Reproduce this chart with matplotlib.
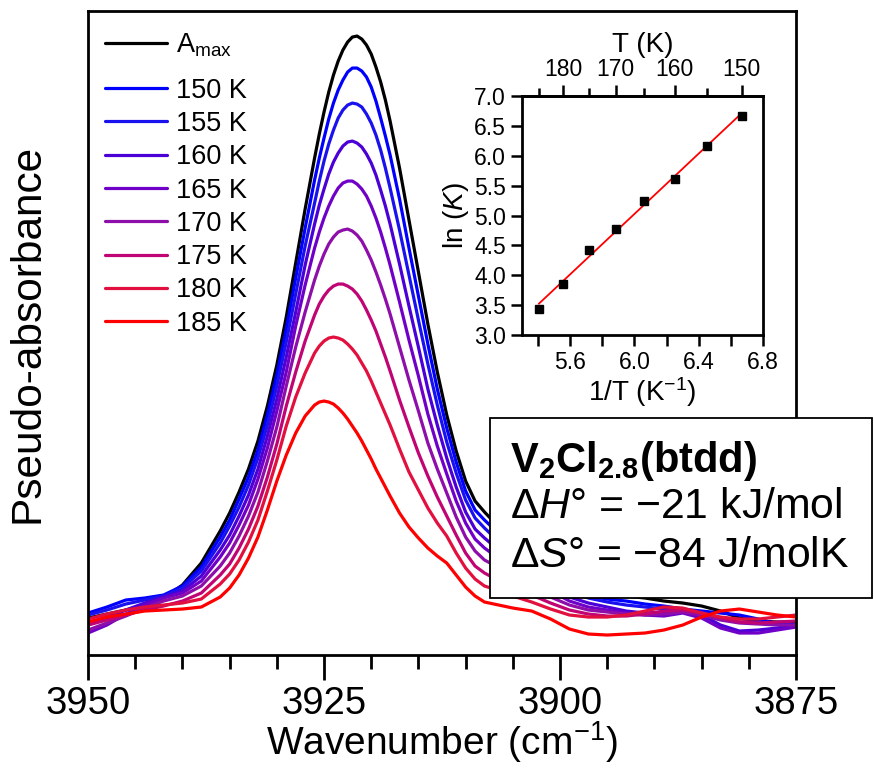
import numpy as np
import matplotlib
matplotlib.use("Agg")
import matplotlib.pyplot as plt
from matplotlib.ticker import FixedLocator, MultipleLocator, NullLocator
from matplotlib.patches import Rectangle

plt.rcParams['font.family'] = ['Liberation Sans', 'DejaVu Sans']
plt.rcParams['mathtext.fontset'] = 'custom'
plt.rcParams['mathtext.rm'] = 'Liberation Sans'
plt.rcParams['mathtext.it'] = 'Liberation Sans:italic'
plt.rcParams['mathtext.bf'] = 'Liberation Sans:bold'

# ---------------- data ----------------
wavenumber = [3950, 3948, 3946, 3944, 3942, 3940, 3938, 3936,
              3935, 3934, 3933, 3932, 3931, 3930, 3929, 3928, 3927, 3926,
              3925.5, 3925, 3924.5, 3924, 3923.5, 3923, 3922.5, 3922, 3921.5, 3921,
              3920.5, 3920, 3919.5, 3919, 3918.5, 3918,
              3917, 3916, 3915, 3914, 3913, 3912, 3911, 3910, 3909, 3908, 3907, 3906, 3905,
              3903, 3901, 3899, 3897, 3895, 3893, 3891, 3889, 3887, 3885,
              3883, 3881, 3879, 3877, 3875]

a_max = [37, 41, 45, 50, 57, 70, 92, 124,
         142, 163, 186, 214, 249, 290, 338, 392, 446, 497,
         521, 543, 563, 580, 594, 605, 613, 618, 619, 616, 610, 601, 588, 573, 555, 534,
         487, 435, 383, 331, 283, 240, 204, 174, 154, 143, 133, 123, 113,
         96, 82, 70, 65, 62, 59, 57, 54, 52, 49, 44, 37, 34, 33, 33]
k150 = [42, 48, 55, 57, 60, 69, 88, 118,
        135, 156, 178, 205, 240, 280, 326, 377, 427, 475,
        497, 517, 536, 552, 565, 575, 583, 587, 587, 584, 578, 568, 554, 537, 519, 500,
        456, 407, 359, 311, 266, 227, 193, 164, 145, 135, 126, 116, 107,
        91, 76, 65, 59, 56, 54, 51, 49, 46, 44, 42, 40, 36, 31, 30]
k155 = [40, 45, 51, 55, 59, 67, 84, 112,
        129, 148, 170, 197, 230, 269, 313, 361, 409, 452,
        474, 494, 511, 525, 537, 545, 550, 552, 551, 548, 541, 532, 520, 505, 487, 467,
        425, 380, 335, 291, 250, 213, 182, 155, 137, 127, 118, 110, 101,
        86, 73, 63, 57, 53, 50, 48, 46, 45, 43, 36, 33, 33, 31, 30]
k160 = [30, 37, 45, 52, 58, 64, 79, 105,
        120, 139, 160, 186, 219, 256, 298, 343, 390, 431,
        450, 466, 481, 493, 502, 509, 513, 514, 512, 508, 501, 492, 480, 465, 449, 431,
        391, 349, 308, 266, 230, 197, 168, 143, 126, 117, 109, 101, 94,
        81, 69, 58, 52, 48, 44, 42, 43, 44, 40, 30, 24, 25, 27, 30]
k165 = [22, 30, 41, 50, 57, 62, 74, 98,
        112, 130, 150, 176, 207, 244, 283, 329, 370, 407,
        423, 437, 449, 459, 467, 472, 474, 474, 471, 466, 459, 449, 437, 423, 407, 390,
        353, 315, 279, 241, 209, 181, 154, 132, 116, 107, 100, 93, 87,
        75, 64, 54, 48, 45, 42, 40, 39, 42, 37, 27, 22, 22, 25, 28]
k170 = [25, 32, 39, 47, 54, 59, 69, 89,
        102, 119, 139, 163, 194, 228, 269, 308, 343, 375,
        389, 401, 411, 418, 423, 425, 426, 424, 420, 414, 405, 395, 383, 370, 356, 341,
        308, 275, 244, 212, 186, 162, 138, 118, 104, 95, 90, 84, 78,
        68, 58, 50, 45, 43, 41, 40, 41, 43, 40, 35, 32, 31, 30, 30]
k175 = [30, 35, 40, 45, 49, 54, 62, 80,
        91, 107, 126, 149, 178, 211, 249, 283, 314, 340,
        351, 359, 365, 369, 371, 371, 369, 366, 361, 354, 345, 335, 324, 311, 298, 284,
        255, 228, 202, 179, 158, 139, 120, 102, 89, 82, 77, 73, 68,
        60, 52, 45, 41, 39, 39, 41, 44, 45, 42, 37, 33, 32, 33, 34]
k180 = [36, 41, 45, 48, 50, 52, 56, 71,
        81, 95, 113, 135, 164, 195, 229, 258, 282, 302,
        309, 314, 317, 318, 317, 315, 311, 306, 300, 292, 284, 274, 263, 252, 241, 230,
        206, 183, 165, 147, 132, 119, 102, 87, 76, 69, 66, 62, 59,
        53, 46, 40, 38, 38, 40, 44, 48, 47, 42, 38, 36, 36, 38, 40]
k185 = [33, 38, 41, 44, 45, 46, 48, 58,
        67, 80, 97, 118, 145, 174, 200, 222, 239, 250,
        253, 254, 253, 251, 247, 242, 236, 229, 222, 214, 205, 196, 186, 177, 168, 159,
        142, 128, 117, 107, 99, 92, 80, 68, 59, 53, 51, 49, 47,
        44, 36, 26, 21, 20, 21, 22, 25, 30, 38, 44, 46, 43, 40, 38]

series_labels = ['A$_{\\mathrm{max}}$', '150 K', '155 K', '160 K', '165 K',
                 '170 K', '175 K', '180 K', '185 K']
series_values = [a_max, k150, k155, k160, k165, k170, k175, k180, k185]
series_colors = ['#000000', '#0000FF', '#1A12EE', '#4A00D6', '#7000C8',
                 '#8E0EAA', '#C00474', '#E2103F', '#FF0000']

# inset (van't Hoff)
temperature = [185, 180, 175, 170, 165, 160, 155, 150]
ln_k = [3.44, 3.85, 4.43, 4.77, 5.24, 5.61, 6.17, 6.67]
t_ticks = [180, 170, 160, 150]
t_minor = [185, 175, 165, 155]

# ---------------- figure ----------------
fig = plt.figure(figsize=(8.74, 7.68), dpi=100)
ax = fig.add_axes([0.1007, 0.1471, 0.8101, 0.8385])

lines = []
for lab, vals, col in zip(series_labels, series_values, series_colors):
    ln, = ax.plot(wavenumber, vals, color=col, lw=2.3, label=lab,
                  solid_joinstyle='round', solid_capstyle='round')
    lines.append(ln)

ax.set_xlim(3950, 3875)
ax.set_ylim(0, 644)
ax.yaxis.set_major_locator(NullLocator())
ax.xaxis.set_major_locator(MultipleLocator(25))
ax.xaxis.set_minor_locator(MultipleLocator(5))
ax.tick_params(axis='x', which='major', direction='out', length=18, width=2,
               labelsize=27.5, pad=4)
ax.tick_params(axis='x', which='minor', direction='out', length=10, width=2)
for s in ax.spines.values():
    s.set_linewidth(2)
ax.set_xlabel('Wavenumber (cm$^{-1}$)', fontsize=28, labelpad=-2)
ax.set_ylabel('Pseudo-absorbance', fontsize=30.5, labelpad=29)

leg_kw = dict(loc='upper left', frameon=False, fontsize=19.5, handlelength=2.29,
              handletextpad=0.33, borderaxespad=0, borderpad=0)
leg1 = ax.legend(lines[:1], series_labels[:1], bbox_to_anchor=(0.024, 0.969), **leg_kw)
ax.add_artist(leg1)
leg2 = ax.legend(lines[1:], series_labels[1:], bbox_to_anchor=(0.024, 0.8967),
                 labelspacing=0.27, **leg_kw)

# ---------------- inset ----------------
axi = fig.add_axes([0.5973, 0.5638, 0.2757, 0.3112])
inv_t = [1000.0 / t for t in temperature]
coef = np.polyfit(inv_t, ln_k, 1)
fit_x = np.array([inv_t[0], inv_t[-1]])
axi.plot(fit_x, np.polyval(coef, fit_x), color='red', lw=1.3, zorder=2)
axi.plot(inv_t, ln_k, 's', color='black', ms=6, zorder=3)
axi.set_xlim(5.3, 6.8)
axi.set_ylim(3.0, 7.0)
axi.xaxis.set_major_locator(FixedLocator([5.6, 6.0, 6.4, 6.8]))
axi.xaxis.set_minor_locator(FixedLocator([5.4, 5.8, 6.2, 6.6]))
axi.yaxis.set_major_locator(MultipleLocator(0.5))
axi.yaxis.set_major_formatter('{x:.1f}')
axi.tick_params(which='major', direction='out', length=8, width=1.8, labelsize=16.5, pad=3.5)
axi.tick_params(which='minor', direction='out', length=8, width=1.8)
for s in axi.spines.values():
    s.set_linewidth(2)
axi.set_xlabel('1/T (K$^{-1}$)', fontsize=20, labelpad=1)
axi.set_ylabel('ln ($\\mathit{K}$)', fontsize=20, labelpad=2)


def inv(x):
    x = np.asarray(x, dtype=float)
    with np.errstate(divide='ignore', invalid='ignore'):
        return 1000.0 / x


sec = axi.secondary_xaxis('top', functions=(inv, inv))
sec.xaxis.set_major_locator(FixedLocator(t_ticks))
sec.xaxis.set_minor_locator(FixedLocator(t_minor))
sec.tick_params(which='major', direction='out', length=8, width=1.8, labelsize=16.5, pad=3)
sec.tick_params(which='minor', direction='out', length=6, width=1.8)
sec.spines['top'].set_linewidth(2)
sec.set_xlabel('T (K)', fontsize=20, labelpad=4)

# ---------------- text box ----------------
box = Rectangle((0.5606, 0.2214), 0.4371, 0.2344, transform=fig.transFigure,
                facecolor='white', edgecolor='black', lw=1.3, zorder=5)
fig.patches.append(box)
fig.text(0.5835, 0.3854, '$\\mathbf{V_{2}Cl_{2.8}(btdd)}$', fontsize=30,
         va='baseline', ha='left', zorder=6)
fig.text(0.5835, 0.3255, 'Δ$\\mathit{H}$° = −21 kJ/mol', fontsize=30.8,
         va='baseline', ha='left', zorder=6)
fig.text(0.5835, 0.2617, 'Δ$\\mathit{S}$° = −84 J/molK', fontsize=30.8,
         va='baseline', ha='left', zorder=6)

fig.savefig('out.png', dpi=100)
